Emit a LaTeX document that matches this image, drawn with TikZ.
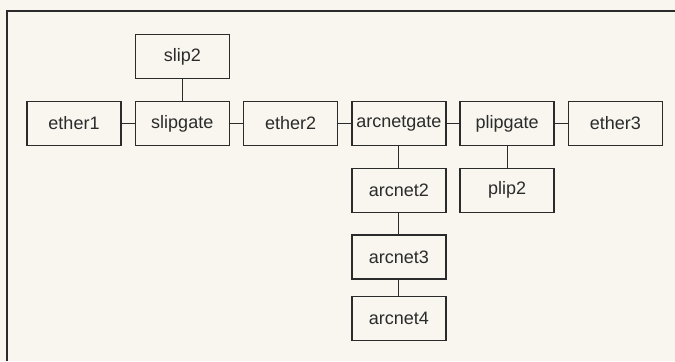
\documentclass[tikz,border=0pt]{standalone}
\usepackage{fontspec}
\setmainfont{Liberation Sans}
\usepackage{xcolor}
\usetikzlibrary{positioning}

\definecolor{paper}{HTML}{F8F6EE}
\definecolor{ink}{HTML}{2B2B2B}

\begin{document}
\begin{tikzpicture}[
    node distance=16pt and 9.6pt,
    host/.style={
        draw=ink,
        line width=1.1pt,
        align=center,
        minimum width=70.5pt,
        minimum height=33pt,
        inner sep=0pt,
        text=ink,
        font=\fontsize{13.5}{16}\selectfont
    },
    link/.style={
        draw=ink,
        line width=0.8pt
    }
]

% page and frame
\fill[paper] (0,0) rectangle (506.25pt,-270.75pt);
\useasboundingbox (0,0) rectangle (506.25pt,-270.75pt);
\draw[ink, line width=1.4pt] (506.25pt,-8.25pt) -- (5.25pt,-8.25pt) -- (5.25pt,-270.75pt);

\node[host] (ether1) at (55.5pt,-92.6pt) {ether1};

\node[host, right=of ether1] (slipgate) {slipgate};

\node[host, above=of slipgate] (slip2) {slip2};

\node[host, right=of slipgate] (ether2) {ether2};

\node[host, right=of ether2] (arcnetgate) {arcnetgate};

\node[host, right=of arcnetgate] (plipgate) {plipgate};

\node[host, right=of plipgate] (ether3) {ether3};

\node[host, below=of arcnetgate] (arcnet2) {arcnet2};

\node[host, below=of plipgate] (plip2) {plip2};

\node[host, below=of arcnet2] (arcnet3) {arcnet3};

\node[host, below=12pt of arcnet3] (arcnet4) {arcnet4};

\draw[link] (ether1) -- (slipgate);

\draw[link] (slip2) -- (slipgate);

\draw[link] (slipgate) -- (ether2);

\draw[link] (ether2) -- (arcnetgate);

\draw[link] (arcnetgate) -- (plipgate);

\draw[link] (plipgate) -- (ether3);

\draw[link] (arcnetgate) -- (arcnet2);

\draw[link] (plipgate) -- (plip2);

\draw[link] (arcnet2) -- (arcnet3);

\draw[link] (arcnet3) -- (arcnet4);

\end{tikzpicture}
\end{document}
